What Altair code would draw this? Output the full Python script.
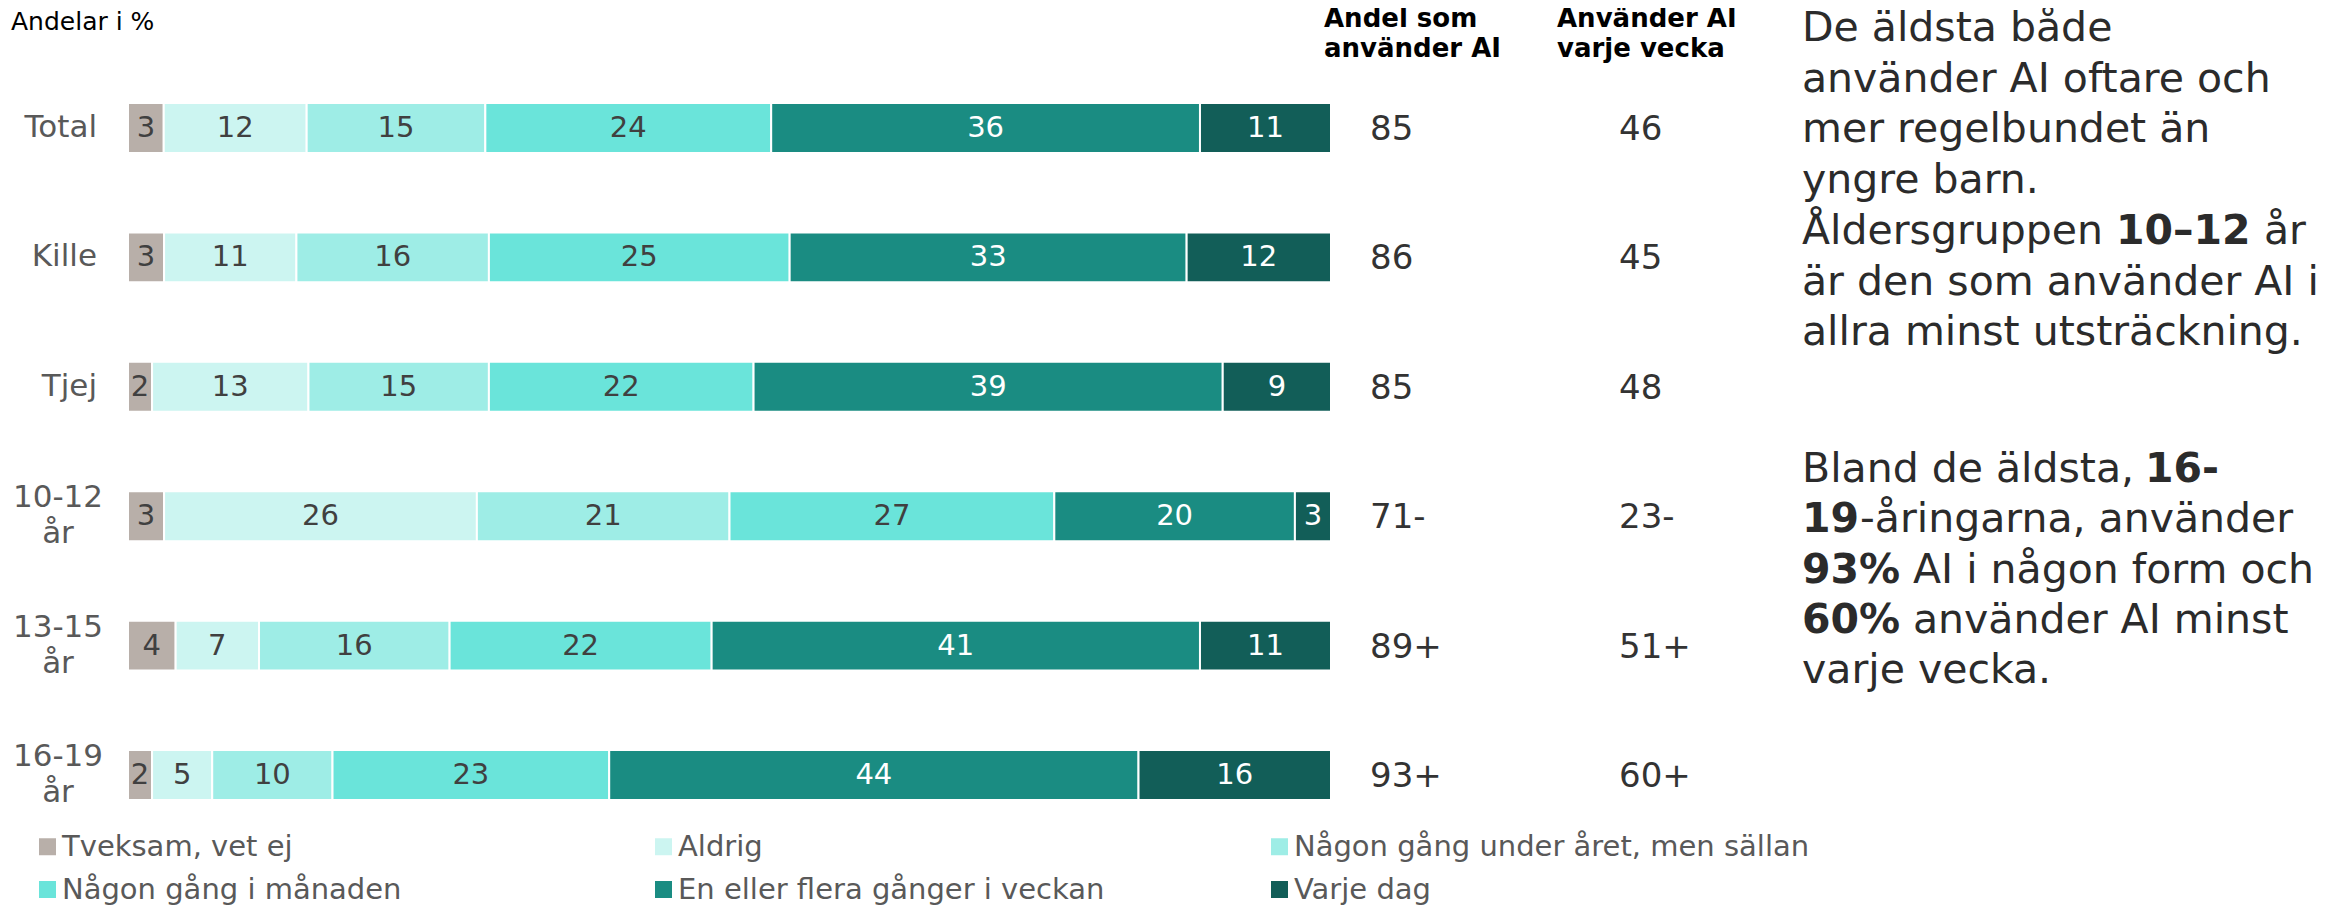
import altair as alt
import pandas as pd

FONT = "DejaVu Sans"

rows = ["Total", "Kille", "Tjej", "10-12 år", "13-15 år", "16-19 år"]
categories = [
    "Tveksam, vet ej",
    "Aldrig",
    "Någon gång under året, men sällan",
    "Någon gång i månaden",
    "En eller flera gånger i veckan",
    "Varje dag",
]
tveksam = [3, 3, 2, 3, 4, 2]
aldrig = [12, 11, 13, 26, 7, 5]
under_aret = [15, 16, 15, 21, 16, 10]
manaden = [24, 25, 22, 27, 22, 23]
veckan = [36, 33, 39, 20, 41, 44]
varje_dag = [11, 12, 9, 3, 11, 16]
andel_ai = ["85", "86", "85", "71-", "89+", "93+"]
varje_vecka = ["46", "45", "48", "23-", "51+", "60+"]
colors = ["#B8AFA9", "#CCF5F1", "#9EEDE6", "#6AE4DA", "#1A8C82", "#125E58"]

series = [tveksam, aldrig, under_aret, manaden, veckan, varje_dag]
records = []
for i, r in enumerate(rows):
    for j, c in enumerate(categories):
        records.append({"row": r, "cat": c, "order": j, "value": series[j][i]})
df = pd.DataFrame(records)
rows_df = pd.DataFrame({"row": rows, "andel": andel_ai, "vecka": varje_vecka})
dummy = pd.DataFrame({"a": [0]})

Y = alt.Y(
    "row:N",
    sort=rows,
    axis=None,
    scale=alt.Scale(paddingInner=0.614, paddingOuter=0.734),
)
XS = alt.Scale(domain=[0, 1], nice=False)

base = alt.Chart(df).transform_stack(
    stack="value",
    groupby=["row"],
    as_=["v0", "v1"],
    offset="normalize",
    sort=[alt.SortField("order", order="ascending")],
)

bars = base.mark_bar(stroke="white", strokeWidth=2).encode(
    x=alt.X("v0:Q", scale=XS, axis=None),
    x2="v1:Q",
    y=Y,
    color=alt.Color(
        "cat:N",
        sort=categories,
        scale=alt.Scale(domain=categories, range=colors),
        legend=alt.Legend(
            title=None,
            orient="none",
            direction="horizontal",
            legendX=-95,
            legendY=824,
            columns=3,
            gridAlign="all",
            columnPadding=71,
            rowPadding=13,
            symbolType="square",
            symbolSize=289,
            symbolStrokeWidth=0,
            labelFont=FONT,
            labelFontSize=29,
            labelColor="#595959",
            labelLimit=800,
            labelOffset=0,
            padding=0,
        ),
    ),
)

seg_labels = base.transform_calculate(mid="(datum.v0 + datum.v1) / 2").mark_text(
    font=FONT, fontSize=29, baseline="middle", align="center"
).encode(
    x=alt.X("mid:Q", scale=XS, axis=None),
    y=Y,
    text="value:Q",
    color=alt.condition("datum.order >= 4", alt.value("white"), alt.value("#404040")),
)

single_lbl = alt.Chart(rows_df).transform_filter("indexof(datum.row, ' ') < 0").mark_text(
    font=FONT, fontSize=31, align="right", baseline="middle", color="#595959"
).encode(x=alt.value(-31), y=Y, text="row:N")

multi_lbl = alt.Chart(rows_df).transform_filter("indexof(datum.row, ' ') >= 0").transform_calculate(
    lbl="replace(datum.row, ' ', '\\n')"
).mark_text(
    font=FONT, fontSize=31, align="center", baseline="middle", color="#595959",
    lineBreak="\n", lineHeight=36, dy=-18,
).encode(x=alt.value(-70), y=Y, text="lbl:N")

col1 = alt.Chart(rows_df).mark_text(
    font=FONT, fontSize=34, align="left", baseline="middle", color="#333333", dy=2
).encode(x=alt.value(1242), y=Y, text="andel:N")

col2 = alt.Chart(rows_df).mark_text(
    font=FONT, fontSize=34, align="left", baseline="middle", color="#333333", dy=2
).encode(x=alt.value(1491), y=Y, text="vecka:N")


def txt(s, x, y, size, bold=False, color="#2b2b2b", line_height=None):
    kw = dict(font=FONT, fontSize=size, align="left", baseline="alphabetic", color=color)
    if bold:
        kw["fontWeight"] = "bold"
    if line_height:
        kw["lineBreak"] = "\n"
        kw["lineHeight"] = line_height
    return alt.Chart(dummy).mark_text(**kw).encode(
        x=alt.value(x), y=alt.value(y), text=alt.value(s)
    )


annots = [
    txt("Andelar i %", -117, 22, 25, color="#000000"),
    txt("Andel som\nanvänder AI", 1196, 19, 26, bold=True, color="#000000", line_height=30),
    txt("Använder AI\nvarje vecka", 1429, 19, 26, bold=True, color="#000000", line_height=30),
]

PX = 1674
p1 = [33 + 50.7 * k for k in range(7)]
p2 = [474, 524, 575, 625, 675]
para = [
    ("De äldsta både", PX, p1[0], False),
    ("använder AI oftare och", PX, p1[1], False),
    ("mer regelbundet än", PX, p1[2], False),
    ("yngre barn.", PX, p1[3], False),
    ("Åldersgruppen", PX, p1[4], False),
    ("10–12", 1988, p1[4], True),
    ("år", 2136, p1[4], False),
    ("är den som använder AI i", PX, p1[5], False),
    ("allra minst utsträckning.", PX, p1[6], False),
    ("Bland de äldsta,", PX, p2[0], False),
    ("16-", 2017, p2[0], True),
    ("19", PX, p2[1], True),
    ("-åringarna, använder", 1732, p2[1], False),
    ("93%", PX, p2[2], True),
    ("AI i någon form och", 1785, p2[2], False),
    ("60%", PX, p2[3], True),
    ("använder AI minst", 1785, p2[3], False),
    ("varje vecka.", PX, p2[4], False),
]
for s, x, y, b in para:
    annots.append(txt(s, x, y, 41, bold=b))

chart = alt.layer(bars, seg_labels, single_lbl, multi_lbl, col1, col2, *annots).properties(
    width=1203,
    height=887,
    autosize=alt.AutoSizeParams(type="none"),
    padding={"left": 120, "top": 0, "right": 989, "bottom": 10},
    background="white",
).configure_view(stroke=None)

chart.save("out.html", embed_options={"renderer": "svg", "actions": False})
